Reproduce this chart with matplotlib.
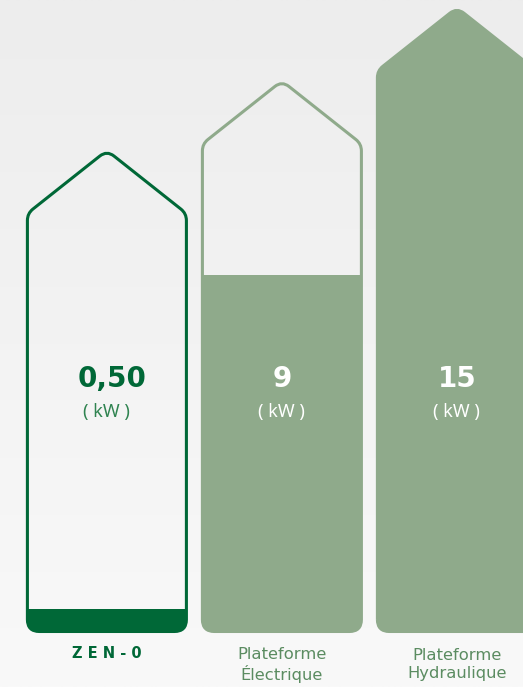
import numpy as np
import matplotlib
matplotlib.use("Agg")
import matplotlib.pyplot as plt
from matplotlib.path import Path
from matplotlib.patches import PathPatch, Rectangle
from matplotlib.colors import LinearSegmentedColormap

# ---- data ----
categories = ["Z E N - 0", "Plateforme\nÉlectrique", "Plateforme\nHydraulique"]
values = [0.50, 9, 15]                 # kW
value_labels = ["0,50", "9", "15"]
fill_levels = [0.54, 8.62, 15]         # fill height (kW scale)
outline_heights = [11.62, 13.3, 15.07] # house outline apex heights (kW scale)

# ---- style ----
DARK = "#006837"
MID = "#2f8350"
SAGE = "#8faa8b"
LABEL = "#5b8c61"
W, H = 523, 687
SX, SY = 175.0, 41.4   # px per unit in x / y
HALF_W = 79.5 / SX
ROOF_H = 63 / SY

fig = plt.figure(figsize=(W / 100, H / 100), dpi=100)
ax = fig.add_axes([0, 0, 1, 1])
x0 = -106.9 / SX
x1 = x0 + W / SX
y0 = -(H - 631.5) / SY
y1 = 15 + 10.5 / SY
ax.set_xlim(x0, x1)
ax.set_ylim(y0, y1)
ax.axis("off")

# background gradient
grad = np.linspace(0, 1, 256).reshape(-1, 1)
bg = LinearSegmentedColormap.from_list("bg", ["#f9f9f9", "#ededed"])
ax.imshow(grad, extent=[x0, x1, y0, y1], origin="lower", aspect="auto",
          cmap=bg, zorder=0)


def rounded_path(pts, radii):
    """pts in data units, corner radii in px."""
    P = np.array(pts, dtype=float) * [SX, SY]
    n = len(P)
    verts, codes = [], []
    for i in range(n):
        p, a, b = P[i], P[i - 1], P[(i + 1) % n]
        r = radii[i]
        da = (a - p) / np.linalg.norm(a - p)
        db = (b - p) / np.linalg.norm(b - p)
        p1, p2 = p + r * da, p + r * db
        verts.append(p1)
        codes.append(Path.MOVETO if i == 0 else Path.LINETO)
        verts += [p, p2]
        codes += [Path.CURVE3, Path.CURVE3]
    verts.append(verts[0]); codes.append(Path.CLOSEPOLY)
    V = np.array(verts) / [SX, SY]
    return Path(V, codes)


for i, (h, f) in enumerate(zip(outline_heights, fill_levels)):
    color = DARK if i == 0 else SAGE
    pts = [(i - HALF_W, 0), (i + HALF_W, 0), (i + HALF_W, h - ROOF_H),
           (i, h), (i - HALF_W, h - ROOF_H)]
    path = rounded_path(pts, [12, 12, 7, 9, 7])
    clip = PathPatch(path, transform=ax.transData, facecolor="none", edgecolor="none")
    ax.add_patch(clip)
    rect = Rectangle((i - 0.6, -1), 1.2, f + 1, facecolor=color, edgecolor="none", zorder=2)
    ax.add_patch(rect)
    rect.set_clip_path(clip)
    ax.add_patch(PathPatch(path, facecolor="none", edgecolor=color, lw=2.2, zorder=3,
                           joinstyle="round"))

# value texts
for i, (lab, v) in enumerate(zip(value_labels, values)):
    ax.text(i + (0.03 if i == 0 else 0.0), 6.1, lab, ha="center", va="center",
            fontsize=20, fontweight="bold",
            color=DARK if i == 0 else "white", family=["DejaVu Sans"], zorder=4)
    ax.text(i, 5.3, "( kW )", ha="center", va="center", fontsize=13,
            color=MID if i == 0 else "white", family=["Noto Sans", "DejaVu Sans"],
            zorder=4)

# category labels
ax.text(0, -0.54, categories[0], ha="center", va="center", fontsize=10.5,
        fontweight="bold", color=DARK, family=["DejaVu Sans"])
for i in (1, 2):
    ax.text(i, -0.8, categories[i], ha="center", va="center", fontsize=11.8,
            color=LABEL, linespacing=1.2, family=["DejaVu Sans"])

fig.savefig("out.png", dpi=100)
